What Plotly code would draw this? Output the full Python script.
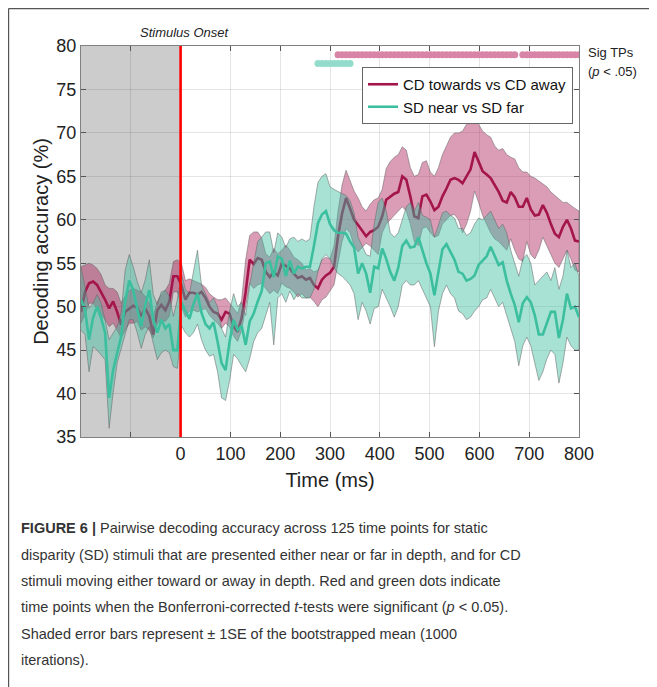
import numpy as np
import plotly.graph_objects as go

# ---------------- data ----------------
time_ms = np.linspace(-200, 800, 125)  # 125 time points

cd_mean = [49.4, 51.7, 52.7, 52.9, 52.5, 51.7, 50.8, 49.8, 50.6, 49.4, 47.9, 49.4, 49.8, 50.1, 49.9, 48.9, 49.8, 48.9, 46.8, 49.6, 50.2, 49.6, 50.6, 53.5, 53.5,
           52.5, 50.8, 51.6, 51.6, 51.4, 51.7,
           51.0, 50.0, 49.4, 49.2, 48.5, 49.4, 49.2, 47.7, 47.1, 48.7, 51.7, 55.4, 54.9, 55.6, 55.4, 54.0, 53.4, 54.0, 53.6, 55.0, 54.7, 54.4, 53.8, 53.3, 53.5, 53.1, 53.3, 52.5, 52.1, 53.1, 53.6,
           53.9, 54.6, 58.1, 60.7, 62.5, 61.3, 60.0, 59.4, 58.8, 58.1, 58.6, 58.8, 59.2, 60.4, 62.3, 62.7, 63.0, 63.2, 65.0, 64.6, 62.7, 60.4, 60.2, 62.7, 62.9, 62.1, 61.1, 61.5, 62.7, 63.6, 64.6, 64.8,
           64.6, 64.2, 65.0, 65.8, 67.8, 66.8, 65.6, 65.2, 64.8, 64.0, 63.2, 62.2, 62.0, 63.2, 62.6, 61.5, 61.5, 62.5, 61.2, 60.5, 60.6, 61.7, 60.8, 59.5, 58.4, 58.0, 59.2, 60.0, 59.0, 57.6, 57.5]
cd_upper = [54.6, 54.8, 55.0, 54.8, 54.4, 53.7, 52.5, 52.1, 52.1, 51.7, 50.4, 51.2, 51.9, 52.1, 51.9, 51.7, 51.2, 50.4, 48.9, 50.6, 51.4, 51.9, 52.7, 55.2, 55.4,
            55.0, 53.0, 53.2, 53.0, 52.8, 52.6,
            52.2, 51.5, 51.1, 50.8, 50.8, 51.0, 50.4, 49.8, 49.2, 50.8, 55.4, 58.2, 58.6, 58.6, 57.9, 56.1, 55.7, 56.7, 56.1, 56.5, 57.1, 56.5, 55.7, 55.4, 55.0, 54.2, 54.4, 54.0, 54.2, 55.4, 55.7,
            55.5, 57.0, 61.0, 64.0, 65.7, 64.5, 63.3, 62.5, 61.5, 61.0, 61.8, 62.3, 62.5, 63.5, 65.9, 66.7, 67.2, 67.5, 68.4, 68.0, 66.0, 65.0, 65.2, 66.6, 66.8, 65.5, 65.0, 66.0, 67.5, 68.5, 69.5, 70.0,
            70.0, 70.2, 71.0, 71.5, 72.1, 71.0, 70.2, 69.8, 69.5, 68.5, 68.0, 68.2, 67.5, 67.2, 67.0, 66.0, 65.5, 65.5, 65.0, 64.8, 64.5, 64.2, 63.8, 63.2, 62.8, 62.3, 62.0, 62.0, 61.6, 61.3, 61.0]
cd_lower = [48.1, 49.1, 50.4, 50.4, 49.8, 49.1, 48.5, 47.7, 48.1, 47.3, 46.4, 47.3, 48.1, 48.1, 48.3, 47.3, 47.7, 47.3, 46.4, 48.1, 48.5, 48.3, 48.9, 51.7, 51.7,
            50.0, 48.8, 49.5, 49.6, 49.4, 49.6,
            49.8, 49.0, 48.5, 48.1, 47.5, 48.1, 47.7, 46.6, 46.0, 47.3, 50.0, 52.7, 52.1, 52.5, 52.7, 52.1, 51.5, 51.9, 51.5, 52.7, 52.3, 52.1, 51.7, 51.1, 51.5, 51.0, 51.1, 50.6, 50.0, 50.8, 51.1,
            51.8, 52.5, 55.0, 57.5, 59.0, 58.5, 57.0, 56.3, 56.8, 57.3, 57.0, 56.5, 56.0, 58.5, 59.5, 60.0, 60.5, 61.0, 61.5, 61.0, 59.5, 57.5, 57.0, 59.0, 59.2, 58.5, 58.0, 58.2, 59.5, 60.0, 60.5, 60.6,
            60.0, 58.5, 59.5, 61.0, 63.3, 62.0, 60.5, 59.5, 58.5, 57.8, 57.5, 57.0, 56.5, 57.8, 56.5, 55.5, 55.2, 57.5, 56.0, 55.5, 56.5, 58.0, 57.0, 56.0, 55.0, 54.5, 55.5, 56.5, 55.5, 54.2, 54.0]

sd_mean = [50.8, 49.6, 46.2, 48.7, 50.0, 48.7, 47.0, 39.5, 42.7, 44.7, 46.6, 50.6, 53.0, 51.9, 49.6, 47.7, 50.2, 51.9, 48.5, 47.0, 48.5, 47.5, 48.0, 45.0, 45.0,
           50.5, 49.5, 48.6, 50.3, 51.5, 49.3,
           48.0, 47.5, 48.2, 46.0, 43.5, 42.7, 46.0, 48.5, 47.3, 47.8, 45.6, 48.3, 49.2, 50.6, 51.8, 55.0, 55.2, 53.4, 55.8, 55.5, 53.5, 55.3, 53.8, 54.6, 54.4, 54.6, 54.6, 57.0, 59.6, 60.6, 61.0,
           59.5, 58.8, 58.5, 58.5, 58.4, 57.5, 56.8, 53.8, 55.0, 53.8, 51.6, 54.6, 54.4, 56.7, 55.5, 54.0, 53.0, 54.5, 57.0, 57.6, 56.8, 56.9, 58.0, 56.5, 55.0, 53.8, 51.3, 54.0, 56.6, 57.2, 56.2, 55.4,
           54.0, 53.8, 53.0, 53.2, 53.6, 54.8, 55.3, 55.8, 56.9, 55.8, 54.8, 55.1, 53.0, 51.5, 50.2, 48.2, 50.4, 51.1, 50.5, 49.0, 46.8, 46.8, 48.2, 49.4, 49.4, 46.4, 48.5, 51.5, 49.8, 50.0, 48.8]
sd_upper = [54.6, 52.3, 49.8, 50.4, 51.4, 50.4, 48.5, 46.2, 47.0, 47.7, 49.3, 54.2, 56.0, 54.6, 52.9, 51.6, 53.1, 55.4, 51.4, 50.2, 51.7, 51.9, 51.2, 48.9, 50.8,
            53.8, 52.0, 51.5, 54.0, 56.5, 52.5,
            51.5, 50.5, 51.0, 50.0, 47.5, 46.5, 49.5, 51.5, 50.0, 50.5, 49.0, 52.5, 55.0, 57.5, 58.0, 58.6, 58.6, 56.2, 58.5, 58.0, 56.8, 57.8, 58.0, 57.5, 57.8, 57.5, 57.8, 61.5, 64.3, 65.0, 65.3,
            63.8, 63.5, 63.2, 63.0, 62.8, 62.2, 60.8, 58.0, 57.0, 56.0, 55.8, 59.5, 62.0, 62.5, 61.0, 58.5, 58.0, 58.5, 60.0, 61.5, 62.0, 61.0, 62.0, 60.5, 60.3, 60.0, 58.0, 59.5, 60.8, 61.0, 60.5, 60.2,
            59.0, 59.0, 58.2, 58.5, 59.5, 60.2, 60.0, 60.5, 61.0, 60.0, 59.0, 59.5, 58.5, 56.5, 55.0, 53.5, 55.5, 56.0, 55.0, 52.5, 53.0, 53.5, 54.0, 53.0, 54.5, 52.0, 53.5, 56.5, 54.5, 55.0, 53.5]
sd_lower = [47.3, 46.8, 42.5, 45.4, 45.0, 44.5, 43.9, 36.0, 40.1, 43.5, 45.0, 46.8, 48.5, 48.5, 47.0, 45.2, 46.8, 47.7, 45.8, 43.9, 44.7, 45.0, 44.7, 43.1, 42.9,
            47.8, 47.0, 46.5, 47.0, 48.0, 46.2,
            45.0, 44.3, 44.5, 42.5, 39.5, 39.2, 41.5, 44.5, 44.0, 43.2, 42.5, 44.0, 46.0, 47.0, 47.5, 49.0, 50.5, 45.6, 51.0, 51.5, 50.5, 51.8, 50.8, 51.5, 51.0, 51.0, 51.0, 52.0, 54.0, 55.5, 56.0,
            55.5, 54.5, 53.8, 53.5, 53.0, 52.5, 51.5, 48.5, 50.5, 49.5, 48.0, 49.8, 50.0, 52.0, 51.0, 50.0, 48.8, 50.0, 52.5, 53.0, 52.5, 52.5, 53.0, 52.0, 51.0, 50.0, 45.4, 49.5, 51.5, 52.5, 51.5, 51.0,
            49.5, 49.2, 48.5, 48.8, 49.5, 50.0, 50.8, 51.0, 52.0, 51.0, 50.0, 50.5, 49.0, 47.5, 46.0, 43.2, 45.5, 46.5, 45.5, 43.5, 41.5, 42.5, 44.0, 45.0, 44.5, 41.2, 43.5, 46.5, 45.5, 45.0, 45.0]

# indices of significant time points
cd_sig_idx = list(range(64, 109)) + list(range(110, 125))
sd_sig_idx = list(range(59, 68))
cd_sig_level = 79.0
sd_sig_level = 78.0

x_tick_vals = [-200, -100, 0, 100, 200, 300, 400, 500, 600, 700, 800]
x_tick_text = ["", "", "0", "100", "200", "300", "400", "500", "600", "700", "800"]
y_tick_vals = [35, 40, 45, 50, 55, 60, 65, 70, 75, 80]

caption_lines = [
    "<b>FIGURE 6 |</b> Pairwise decoding accuracy across 125 time points for static",
    "disparity (SD) stimuli that are presented either near or far in depth, and for CD",
    "stimuli moving either toward or away in depth. Red and green dots indicate",
    "time points when the Bonferroni-corrected <i>t</i>-tests were significant (<i>p</i> &lt; 0.05).",
    "Shaded error bars represent ± 1SE of the bootstrapped mean (1000",
    "iterations).",
]

# ---------------- styling ----------------
OFF = 8                      # page body margin
W, H = 657 - OFF, 687 - OFF  # figure size
L, R, T, B = 81, 579, 46, 437  # plot area in page px
FONT = "Liberation Sans, Arial, Helvetica, sans-serif"
CD_LINE = "#a3154b"
CD_FILL = "rgba(170, 20, 80, 0.42)"
SD_LINE = "#3bbf9e"
SD_FILL = "rgba(60, 190, 160, 0.45)"
EDGE = "rgba(100, 100, 100, 0.75)"


def px_x(px):
    return (px - L) / (R - L)


def px_y(py):
    return 1 - (py - T) / (B - T)


t = list(time_ms)
fig = go.Figure()

fig.add_trace(go.Scatter(x=t + t[::-1], y=cd_upper + cd_lower[::-1], fill="toself",
                         fillcolor=CD_FILL, line=dict(color=EDGE, width=0.7),
                         hoverinfo="skip", showlegend=False))
fig.add_trace(go.Scatter(x=t, y=cd_mean, mode="lines", name="CD towards vs CD away",
                         line=dict(color=CD_LINE, width=2.6)))
fig.add_trace(go.Scatter(x=t + t[::-1], y=sd_upper + sd_lower[::-1], fill="toself",
                         fillcolor=SD_FILL, line=dict(color=EDGE, width=0.7),
                         hoverinfo="skip", showlegend=False))
fig.add_trace(go.Scatter(x=t, y=sd_mean, mode="lines", name="SD near vs SD far",
                         line=dict(color=SD_LINE, width=2.6)))

fig.add_trace(go.Scatter(x=[time_ms[i] for i in cd_sig_idx], y=[cd_sig_level] * len(cd_sig_idx),
                         mode="markers", marker=dict(color="#d884a7", size=7),
                         showlegend=False, hoverinfo="skip"))
fig.add_trace(go.Scatter(x=[time_ms[i] for i in sd_sig_idx], y=[sd_sig_level] * len(sd_sig_idx),
                         mode="markers", marker=dict(color="#93dccb", size=7),
                         showlegend=False, hoverinfo="skip"))

shapes = [
    dict(type="rect", xref="x", yref="y", x0=-200, x1=0, y0=35, y1=80,
         fillcolor="#cccccc", line=dict(width=0), layer="below"),
    dict(type="line", xref="x", yref="y", x0=0, x1=0, y0=35, y1=80,
         line=dict(color="#ff0000", width=2.6), layer="above"),
    # outer frame (top and left edges)
    dict(type="line", xref="paper", yref="paper", x0=px_x(8.6), x1=px_x(660), y0=px_y(8.6), y1=px_y(8.6),
         line=dict(color="#555555", width=1.2)),
    dict(type="line", xref="paper", yref="paper", x0=px_x(8.6), x1=px_x(8.6), y0=px_y(8.6), y1=px_y(690),
         line=dict(color="#555555", width=1.2)),
]

annotations = [
    dict(text="<i>Stimulus Onset</i>", x=0, xref="x", xshift=4, y=px_y(33), yref="paper",
         showarrow=False, font=dict(family=FONT, size=13, color="#222"), xanchor="center", yanchor="middle"),
    dict(text="Sig TPs", x=px_x(586), xref="paper", y=px_y(53), yref="paper", showarrow=False,
         font=dict(family=FONT, size=13, color="#222"), xanchor="left", yanchor="middle"),
    dict(text="(<i>p</i> &lt; .05)", x=px_x(586), xref="paper", y=px_y(71), yref="paper", showarrow=False,
         font=dict(family=FONT, size=13, color="#222"), xanchor="left", yanchor="middle"),
]
line_centers = [528, 555, 581, 607, 634, 660]
for txt, yc in zip(caption_lines, line_centers):
    annotations.append(dict(text=txt, x=px_x(19), xref="paper", y=px_y(yc), yref="paper",
                            showarrow=False, xanchor="left", yanchor="middle", align="left",
                            font=dict(family=FONT, size=14.5, color="#333333")))

fig.update_layout(
    width=W, height=H, autosize=False,
    margin=dict(l=L - OFF, r=(W + OFF) - R, t=T - OFF, b=(H + OFF) - B, pad=0),
    paper_bgcolor="white", plot_bgcolor="white",
    font=dict(family=FONT, color="#222"),
    shapes=shapes, annotations=annotations,
    showlegend=True,
    legend=dict(x=px_x(362), y=px_y(67), xanchor="left", yanchor="top",
                bgcolor="white", bordercolor="#666", borderwidth=1,
                font=dict(family=FONT, size=15, color="#111"), tracegroupgap=0),
    xaxis=dict(range=[-200, 800], tickvals=x_tick_vals, ticktext=x_tick_text,
               ticks="inside", ticklen=5, tickcolor="#555", showline=True, linecolor="#808080",
               linewidth=1, mirror="ticks", showgrid=True, gridcolor="rgba(0,0,0,0.1)",
               zeroline=False, tickfont=dict(family=FONT, size=18, color="#222"),
               title=dict(text="Time (ms)", font=dict(family=FONT, size=20, color="#222"), standoff=10)),
    yaxis=dict(range=[35, 80], tickvals=y_tick_vals,
               ticks="inside", ticklen=5, tickcolor="#555", showline=True, linecolor="#808080",
               linewidth=1, mirror="ticks", showgrid=True, gridcolor="rgba(0,0,0,0.1)",
               zeroline=False, tickfont=dict(family=FONT, size=18, color="#222"),
               title=dict(text="Decoding accuracy (%)", font=dict(family=FONT, size=20, color="#222"), standoff=2)),
)

fig.write_html("out.html")
